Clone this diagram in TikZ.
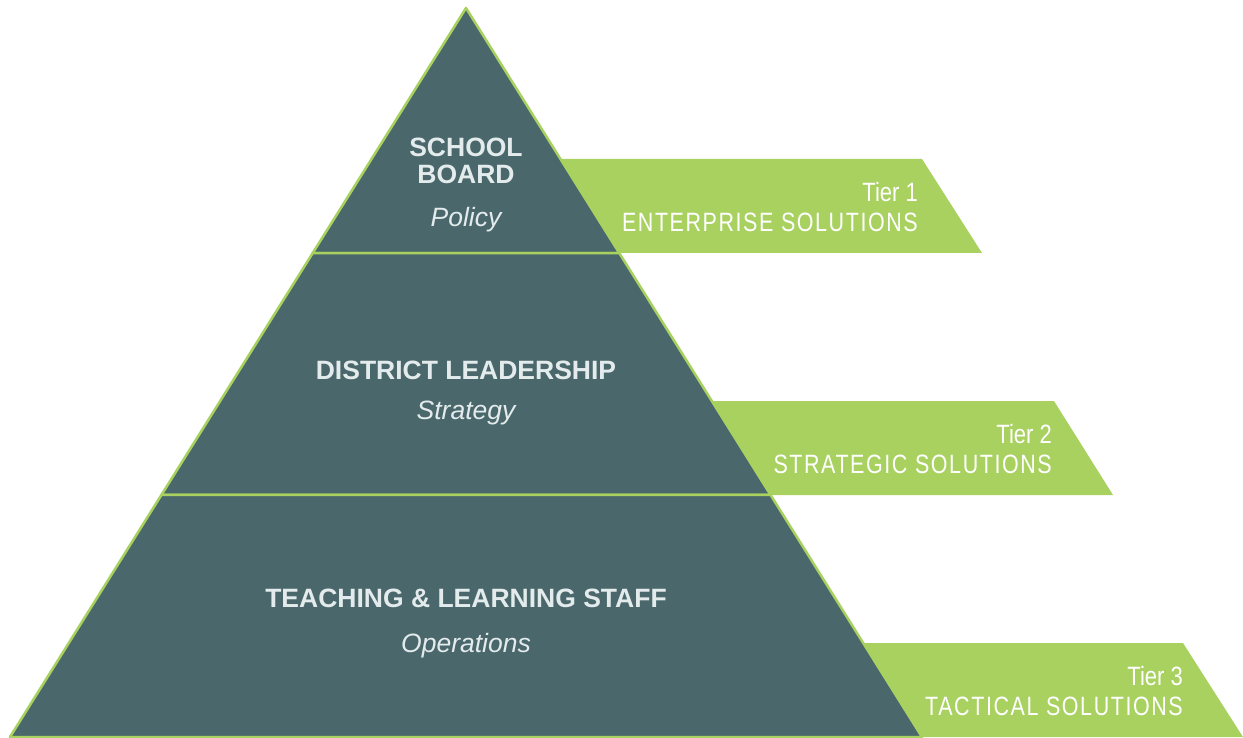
\documentclass[tikz,border=0pt]{standalone}
\usepackage{fontspec}
\setmainfont{Liberation Sans}
\newfontfamily\narrowfont[FakeStretch=0.83]{Liberation Sans}
\newfontfamily\spacedfont[FakeStretch=0.81,LetterSpace=6]{Liberation Sans}
\usetikzlibrary{calc,positioning}

\definecolor{slate}{RGB}{74,104,107}
\definecolor{leaf}{RGB}{168,209,96}
\definecolor{mist}{RGB}{228,235,237}

\begin{document}
\begin{tikzpicture}[x=1pt,y=1pt,yscale=-1,
  layer/.style = {fill=slate, draw=leaf, line width=2.5pt, line join=round},
  banner/.style = {fill=leaf},
  group/.style = {text=mist, inner sep=0pt, align=center,
    font=\bfseries\fontsize{26.5}{27}\selectfont},
  role/.style = {text=mist, inner sep=0pt, anchor=base,
    font=\itshape\fontsize{26.5}{30}\selectfont},
  tier/.style = {text=white, inner sep=0pt, anchor=base east,
    font=\narrowfont\fontsize{26.5}{30}\selectfont},
  sol/.style = {text=white, inner sep=0pt, anchor=base east,
    font=\spacedfont\fontsize{26.5}{30}\selectfont}]
  \useasboundingbox (0,0) rectangle (1243,738);

  % banners sit behind the pyramid
  \fill[banner] (540,159) -- (922,159) -- (982,253) -- (540,253) -- cycle;
  \fill[banner] (690,401) -- (1054,401) -- (1113,495) -- (690,495) -- cycle;
  \fill[banner] (840,643) -- (1183,643) -- (1243,737) -- (840,737) -- cycle;

  \coordinate (top) at (466,8);
  \coordinate (bl) at (10,737);
  \coordinate (br) at (922,737);
  \coordinate (l1) at ($(top)!0.3361!(bl)$);
  \coordinate (r1) at ($(top)!0.3361!(br)$);
  \coordinate (l2) at ($(top)!0.6680!(bl)$);
  \coordinate (r2) at ($(top)!0.6680!(br)$);

  \draw[layer] (top) -- (r1) -- (l1) -- cycle;
  \draw[layer] (l1) -- (r1) -- (r2) -- (l2) -- cycle;
  \draw[layer] (l2) -- (r2) -- (br) -- (bl) -- cycle;

  \node[group] (board) at (466,161) {SCHOOL\\BOARD};
  \node[role] (policy) at (466,227) {Policy};
  \node[group, anchor=base] (district) at (466,379) {DISTRICT LEADERSHIP};
  \node[role] (strategy) at (466,419) {Strategy};
  \node[group, anchor=base] (staff) at (466,607) {TEACHING \& LEARNING STAFF};
  \node[role] (ops) at (466,652) {Operations};

  \node[tier] (t1) at (918,202) {Tier 1};
  \node[sol] (s1) at (918,232) {ENTERPRISE SOLUTIONS};
  \node[tier] (t2) at (1052,443) {Tier 2};
  \node[sol] (s2) at (1052,473) {STRATEGIC SOLUTIONS};
  \node[tier] (t3) at (1183,685) {Tier 3};
  \node[sol] (s3) at (1183,715) {TACTICAL SOLUTIONS};
\end{tikzpicture}
\end{document}
